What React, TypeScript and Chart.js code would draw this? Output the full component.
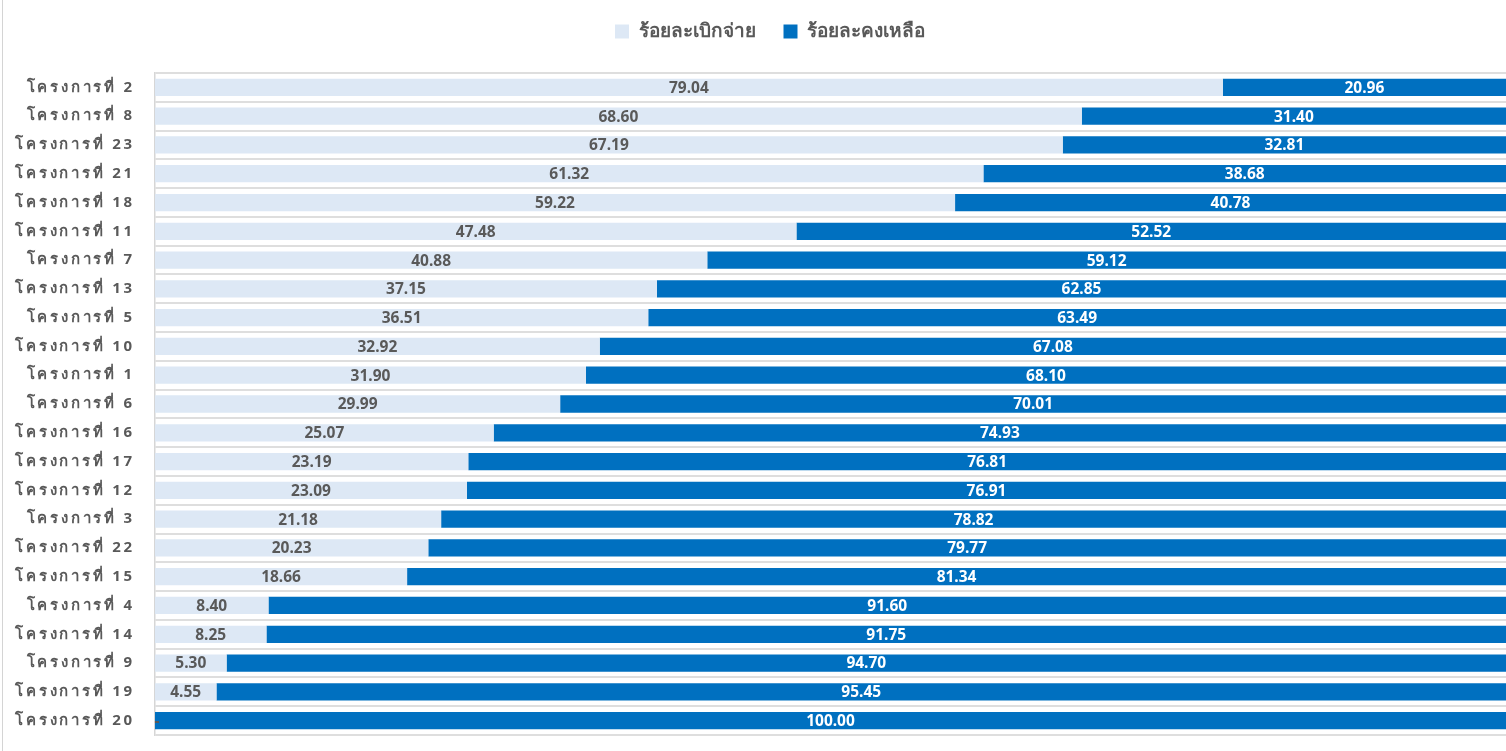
import { useEffect, useRef } from 'react';
import { Chart, registerables } from 'chart.js';

Chart.register(...registerables);

const categories = [
  'โครงการที่ 2', 'โครงการที่ 8', 'โครงการที่ 23', 'โครงการที่ 21', 'โครงการที่ 18',
  'โครงการที่ 11', 'โครงการที่ 7', 'โครงการที่ 13', 'โครงการที่ 5', 'โครงการที่ 10',
  'โครงการที่ 1', 'โครงการที่ 6', 'โครงการที่ 16', 'โครงการที่ 17', 'โครงการที่ 12',
  'โครงการที่ 3', 'โครงการที่ 22', 'โครงการที่ 15', 'โครงการที่ 4', 'โครงการที่ 14',
  'โครงการที่ 9', 'โครงการที่ 19', 'โครงการที่ 20',
];

const disbursed = [
  79.04, 68.6, 67.19, 61.32, 59.22, 47.48, 40.88, 37.15, 36.51, 32.92, 31.9, 29.99,
  25.07, 23.19, 23.09, 21.18, 20.23, 18.66, 8.4, 8.25, 5.3, 4.55, 0,
];

const remaining = [
  20.96, 31.4, 32.81, 38.68, 40.78, 52.52, 59.12, 62.85, 63.49, 67.08, 68.1, 70.01,
  74.93, 76.81, 76.91, 78.82, 79.77, 81.34, 91.6, 91.75, 94.7, 95.45, 100,
];

const seriesNames = ['ร้อยละเบิกจ่าย', 'ร้อยละคงเหลือ'];

const FONT = '"Noto Sans", sans-serif';
const LIGHT = '#dde8f5';
const BLUE = '#0070c0';
const GRAY = '#595959';

const labelPlugin = {
  id: 'barLabels',
  beforeInit(chart: any) {
    const legend = chart.legend;
    if (legend) {
      const orig = legend.fit;
      legend.fit = function () {
        orig.call(this);
        this.height = 73;
      };
    }
  },
  afterLayout(chart: any) {
    const legend = chart.legend;
    if (legend) {
      legend.top -= 6;
      legend.bottom -= 6;
      legend.left += 17;
      legend.right += 17;
    }
  },
  afterDatasetsDraw(chart: any) {
    const ctx = chart.ctx;
    ctx.save();
    ctx.font = `bold 15.5px ${FONT}`;
    ctx.textAlign = 'center';
    ctx.textBaseline = 'middle';
    chart.data.datasets.forEach((ds: any, di: number) => {
      const meta = chart.getDatasetMeta(di);
      meta.data.forEach((el: any, i: number) => {
        const v = ds.data[i];
        const { x, base, y } = el.getProps(['x', 'base', 'y'], true);
        ctx.fillStyle = di === 0 ? GRAY : '#ffffff';
        if (v === 0) {
          ctx.fillStyle = GRAY;
          ctx.fillText('-', base + 2, y + 1);
        } else {
          ctx.fillText(v.toFixed(2), (x + base) / 2, y + 1);
        }
      });
    });
    ctx.restore();
    ctx.letterSpacing = '2.8px';
  },
  afterDraw(chart: any) {
    chart.ctx.letterSpacing = '0px';
  },
};

export default function App() {
  const ref = useRef<HTMLCanvasElement | null>(null);

  useEffect(() => {
    if (!ref.current) return;
    const chart = new Chart(ref.current, {
      type: 'bar',
      data: {
        labels: categories,
        datasets: [
          {
            label: seriesNames[0],
            data: disbursed,
            backgroundColor: LIGHT,
            borderWidth: 0,
            categoryPercentage: 1,
            barPercentage: 0.6,
          },
          {
            label: seriesNames[1],
            data: remaining,
            backgroundColor: BLUE,
            borderWidth: 0,
            categoryPercentage: 1,
            barPercentage: 0.6,
          },
        ],
      },
      options: {
        indexAxis: 'y',
        animation: false,
        responsive: false,
        maintainAspectRatio: false,
        layout: { padding: { top: 0, bottom: 16, left: 0, right: 0 } },
        plugins: {
          legend: {
            position: 'top',
            align: 'center',
            labels: {
              boxWidth: 14,
              boxHeight: 14,
              padding: 28,
              color: GRAY,
              font: { family: FONT, size: 19, weight: 'bold' },
            },
          },
          tooltip: { enabled: false },
          title: { display: false },
        },
        scales: {
          x: {
            stacked: true,
            display: false,
            min: 0,
            max: 100,
          },
          y: {
            stacked: true,
            afterFit(scale: any) {
              scale.width = 155;
              scale.paddingTop = 0;
              scale.paddingBottom = 0;
            },
            grid: {
              color: '#dedede',
              lineWidth: 2,
              drawTicks: false,
              offset: true,
            },
            border: { display: true, color: '#d6d6d6', width: 1.5 },
            ticks: {
              z: 1,
              padding: 20,
              color: GRAY,
              font: { family: FONT, size: 15, weight: 'bold' },
            },
          },
        },
      },
      plugins: [labelPlugin],
    });
    return () => chart.destroy();
  }, []);

  return (
    <div style={{ position: 'fixed', left: 0, top: 0, width: 1506, height: 751, background: '#fff' }}>
      <div style={{ position: 'absolute', left: 2, top: 0, width: 1, height: 751, background: '#d4d4d4' }} />
      <canvas ref={ref} width={1506} height={751} style={{ position: 'absolute', left: 0, top: 0, width: 1506, height: 751 }} />
    </div>
  );
}
